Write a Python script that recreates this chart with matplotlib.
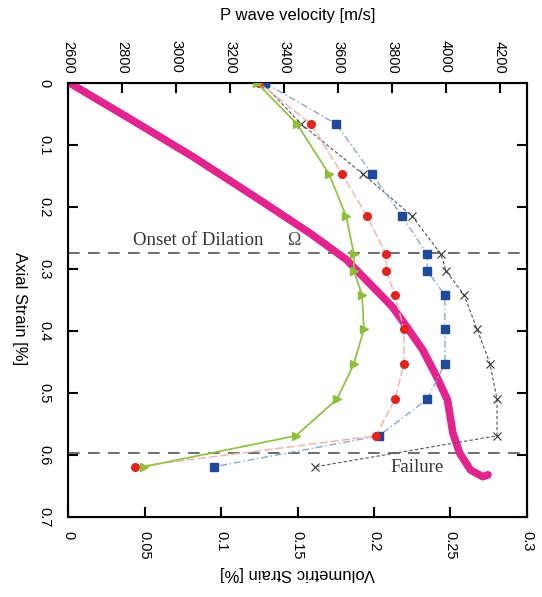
import matplotlib
matplotlib.use("Agg")
import matplotlib.pyplot as plt

# ---- data ----
# volumetric strain curve (bottom axis) vs axial strain
vol_strain = [0.001, 0.0386, 0.0817, 0.1255, 0.158, 0.182, 0.193, 0.212, 0.2216,
              0.232, 0.241, 0.248, 0.2516, 0.256, 0.263, 0.271, 0.2745]
vol_axial = [0.0, 0.055, 0.119, 0.189, 0.242, 0.285, 0.313, 0.361, 0.394,
             0.431, 0.474, 0.511, 0.565, 0.597, 0.624, 0.635, 0.632]

# P wave velocity series (top axis) vs axial strain
vp_axial = [0.0, 0.066, 0.147, 0.2145, 0.276, 0.303, 0.342, 0.397, 0.453, 0.51, 0.569, 0.619]
vp_green = [3300, 3448, 3567, 3630, 3659, 3659, 3689, 3696, 3659, 3596, 3444, 2881]
vp_red = [3307, 3500, 3615, 3707, 3778, 3778, 3811, 3844, 3844, 3811, 3741, 2848]
vp_blue = [3330, 3593, 3726, 3837, 3930, 3930, 3996, 3996, 3996, 3930, 3752, 3141]
vp_cross = [3320, 3463, 3693, 3874, 3981, 4000, 4067, 4115, 4163, 4189, 4189, 3515]

onset_strain = 0.274
failure_strain = 0.597

vol_ticks = [0, 0.05, 0.1, 0.15, 0.2, 0.25, 0.3]
vol_ticklabels = ["0", "0.05", "0.1", "0.15", "0.2", "0.25", "0.3"]
axial_ticks = [0, 0.1, 0.2, 0.3, 0.4, 0.5, 0.6, 0.7]
axial_ticklabels = ["0", "0.1", "0.2", "0.3", "0.4", "0.5", "0.6", "0.7"]
vp_ticks = [2600, 2800, 3000, 3200, 3400, 3600, 3800, 4000, 4200]

# ---- figure ----
plt.rcParams['font.family'] = ['Liberation Sans', 'DejaVu Sans']
fig = plt.figure(figsize=(5.42, 5.97), dpi=100)
ax = fig.add_axes([0.1255, 0.134, 0.8468, 0.727])

ax.plot(vol_strain, vol_axial, color='#e2258e', lw=5.5, solid_capstyle='round',
        solid_joinstyle='round', zorder=3)

ax.axhline(onset_strain, color='#555555', lw=1.2, dashes=(7, 5), zorder=2)
ax.axhline(failure_strain, color='#555555', lw=1.2, dashes=(7, 5), zorder=2)
ax.text(0.0425, 0.261, "Onset of Dilation", family=['Liberation Serif'], fontsize=13.5,
        color='#333333', ha='left', va='baseline')
ax.text(0.143, 0.261, "Ω", family=['Liberation Serif', 'DejaVu Serif'], fontsize=13,
        color='#555555', ha='left', va='baseline')
ax.text(0.2105, 0.627, "Failure", family=['Liberation Serif'], fontsize=13.5,
        color='#333333', ha='left', va='baseline')

ax.set_xlim(0, 0.3)
ax.set_ylim(0.7, 0)
ax.set_xticks(vol_ticks)
ax.set_xticklabels(vol_ticklabels, rotation=-90, fontsize=10.5)
ax.set_yticks(axial_ticks)
ax.set_yticklabels(axial_ticklabels, rotation=-90, fontsize=10.5, va='center')
ax.tick_params(axis='x', direction='in', length=7, width=1.5, pad=10, top=False)
ax.tick_params(axis='y', direction='in', length=7, width=1.5, pad=12, right=True,
               labelright=False)
for s in ax.spines.values():
    s.set_linewidth(1.5)

ax.set_xlabel("Volumetric Strain [%]", rotation=180, fontsize=12)
ax.xaxis.set_label_coords(0.501, -0.131)
ax.xaxis.label.set_va('center')
ax.set_ylabel("Axial Strain [%]", rotation=-90, fontsize=12)
ax.yaxis.set_label_coords(-0.105, 0.48)
ax.yaxis.label.set_va('center')
ax.yaxis.label.set_ha('center')

ax2 = ax.twiny()
ax2.set_xlim(2600, 4300)
ax2.set_ylim(0.7, 0)
ax2.plot(vp_cross, vp_axial, color='#555555', lw=0.8, dashes=(3, 2), marker='x',
         ms=6, mec='#333333', mew=0.8, markevery=list(range(1, len(vp_axial))), zorder=3)
ax2.plot(vp_blue, vp_axial, color='#8ea6d2', lw=1.0, dashes=(5, 2, 1, 2), marker='s',
         ms=5.5, mfc='#1f4a9b', mec='#1f4a9b', zorder=4)
ax2.plot(vp_red, vp_axial, color='#f2b3aa', lw=1.0, dashes=(6, 2), marker='o',
         ms=5.5, mfc='#e3231f', mec='#e3231f', zorder=5)
ax2.plot(vp_green, vp_axial, color='#93c24a', lw=1.3, marker='>', ms=6,
         mfc='#8dbf3a', mec='#8dbf3a', zorder=6)
ax2.set_xticks(vp_ticks)
ax2.set_xticklabels([str(v) for v in vp_ticks], rotation=-90, fontsize=10.5)
ax2.tick_params(axis='x', direction='in', length=7, width=1.5, pad=7)
ax2.set_xlabel("P wave velocity [m/s]", fontsize=12)
ax2.xaxis.set_label_coords(0.5, 1.155)
ax2.xaxis.label.set_va('center')

fig.savefig("out.png", dpi=100)
